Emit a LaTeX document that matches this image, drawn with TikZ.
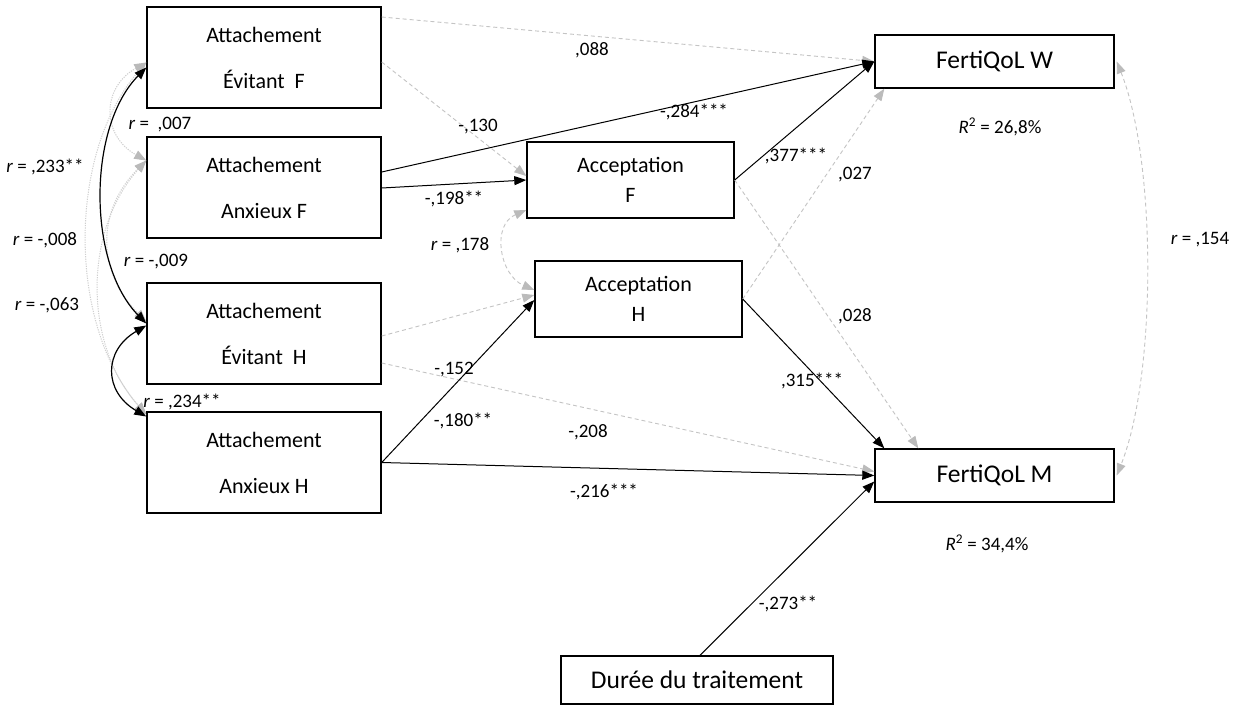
\documentclass[tikz,border=0pt]{standalone}
\usepackage{fontspec}
\setmainfont{Carlito}
\usetikzlibrary{arrows.meta,calc}
\definecolor{dgray}{HTML}{C4C4C4}
\definecolor{hgray}{HTML}{BBBBBB}
\definecolor{dotgray}{HTML}{CFCFCF}
\tikzset{
  box/.style={draw=black,line width=1.4pt,rectangle,inner sep=0pt,align=center,
    font=\fontsize{22}{46}\selectfont,minimum width=234pt,minimum height=101pt},
  accbox/.style={draw=black,line width=1.4pt,rectangle,inner sep=0pt,align=center,
    font=\fontsize{22}{30}\selectfont,minimum width=207pt,minimum height=76pt},
  outbox/.style={draw=black,line width=1.4pt,rectangle,inner sep=0pt,align=center,
    font=\fontsize{25.5}{30}\selectfont,minimum width=239pt,minimum height=53pt},
  lab/.style={font=\fontsize{19}{22}\selectfont,inner sep=0pt},
  solidarr/.style={draw=black,line width=1pt,-{Triangle[length=12pt,width=9pt]}},
  soliddbl/.style={draw=black,line width=1.2pt,{Triangle[length=12pt,width=9pt]}-{Triangle[length=12pt,width=9pt]}},
  dasharr/.style={draw=dgray,line width=0.9pt,dash pattern=on 4pt off 3pt,
    -{Triangle[length=12pt,width=9pt,color=hgray,fill=hgray]}},
  dashdbl/.style={draw=dgray,line width=0.9pt,dash pattern=on 4pt off 3pt,
    {Triangle[length=12pt,width=9pt,color=hgray,fill=hgray]}-{Triangle[length=12pt,width=9pt,color=hgray,fill=hgray]}},
  dotdbl/.style={draw=dotgray,line width=1pt,dash pattern=on 1.2pt off 1.2pt,
    {Triangle[length=12pt,width=9pt,color=dotgray!90!black,fill=dotgray!90!black]}-{Triangle[length=12pt,width=9pt,color=dotgray!90!black,fill=dotgray!90!black]}},
}
\begin{document}
\begin{tikzpicture}[x=1pt,y=-1pt]
\useasboundingbox (0,0) rectangle (1234,710);
\fill[white] (0,0) rectangle (1234,710);

% boxes
\node[box] (aef) at (264,57.5) {Attachement\\Évitant\ \ F};
\node[box] (aaf) at (264,187.5) {Attachement\\Anxieux F};
\node[box] (aeh) at (264,333.5) {Attachement\\Évitant\ \ H};
\node[box] (aah) at (264,462.5) {Attachement\\Anxieux H};
\node[accbox] (accf) at (630.5,180) {Acceptation\\F};
\node[accbox] (acch) at (638.5,299) {Acceptation\\H};
\node[outbox] (fw) at (994.5,61.5) {FertiQoL W};
\node[outbox] (fm) at (994.5,475.5) {FertiQoL M};
\node[outbox,minimum width=272pt,minimum height=48pt] (dur) at (697,680) {Durée du traitement};

% paths
\draw[dasharr] ([yshift=40.5pt]aef.east) -- (fw.west);
\draw[dasharr] ([yshift=-4.5pt]aef.east) -- ([yshift=4pt]accf.west);
\draw[solidarr] ([yshift=15.5pt]aaf.east) -- (fw.west);
\draw[solidarr] ([yshift=-0.5pt]aaf.east) -- (accf.west);
\draw[solidarr] (accf.east) -- (fw.west);
\draw[dasharr] (acch.east) -- ([xshift=10pt]fw.south west);
\draw[dasharr] (accf.east) -- ([xshift=44pt]fm.north west);
\draw[solidarr] (acch.east) -- ([xshift=10pt]fm.north west);
\draw[dasharr] ([yshift=-2.5pt]aeh.east) -- ([yshift=4pt]acch.west);
\draw[dasharr] ([yshift=-29.5pt]aeh.east) -- ([yshift=4pt]fm.west);
\draw[solidarr] (aah.east) -- ([yshift=-1pt]acch.west);
\draw[solidarr] (aah.east) -- (fm.west);
\draw[solidarr] ([xshift=3pt]dur.north) -- ([yshift=-6pt]fm.west);

% correlations
\coordinate (p178) at ([yshift=-30pt]accf.west);
\coordinate (q178) at ([yshift=9pt]acch.west);
\draw[dashdbl] (p178) .. controls ($(p178)+(-35,15)$) and ($(q178)+(-35,-15)$) .. (q178);
\coordinate (p154) at ([xshift=2pt]fw.east);
\coordinate (q154) at ([xshift=2pt]fm.east);
\draw[dashdbl] (p154) .. controls ($(p154)+(40,100)$) and ($(q154)+(40,-100)$) .. (q154);

\coordinate (aefg) at ([yshift=-5pt]aef.west);
\coordinate (aafg) at ([yshift=27pt]aaf.west);
\coordinate (aehg) at ([yshift=12pt]aeh.west);
\coordinate (aahg) at ([yshift=48pt]aah.west);
\draw[dotdbl] (aefg) .. controls ($(aefg)+(-79,90)$) and ($(aahg)+(-79,-90)$) .. (aahg);
\draw[dotdbl] (aafg) .. controls ($(aafg)+(-63,70)$) and ($(aahg)+(-63,-70)$) .. (aahg);
\draw[dotdbl] (aafg) .. controls ($(aafg)+(-50,50)$) and ($(aehg)+(-50,-50)$) .. (aehg);
\draw[dotdbl] (aefg) .. controls ($(aefg)+(-45,25)$) and ($(aafg)+(-45,-25)$) .. (aafg);

\coordinate (aefb) at ([yshift=-10pt]aef.west);
\coordinate (aehb) at ([yshift=10pt]aeh.west);
\coordinate (aehc) at ([yshift=8pt]aeh.west);
\coordinate (aahb) at ([yshift=46pt]aah.west);
\draw[soliddbl] (aefb) .. controls ($(aefb)+(-59,60)$) and ($(aehb)+(-59,-60)$) .. (aehb);
\draw[soliddbl] (aehc) .. controls ($(aehc)+(-43,25)$) and ($(aahb)+(-43,-25)$) .. (aahb);

% labels
\node[lab] (l088) at (592,50) {,088};
\node[lab] (l130) at (478,127) {-,130};
\node[lab] (l284) at (694,112) {-,284***};
\node[lab] (l198) at (454,199) {-,198**};
\node[lab] (l377) at (796,156) {,377***};
\node[lab] (l027) at (855,175) {,027};
\node[lab] (l028) at (855,316) {,028};
\node[lab] (l315) at (812,381) {,315***};
\node[lab] (l152) at (454,370) {-,152};
\node[lab] (l208) at (588,432) {-,208};
\node[lab] (l180) at (463,421) {-,180**};
\node[lab] (l216) at (604,492) {-,216***};
\node[lab] (l273) at (788,604) {-,273**};
\node[lab] (l178) at (460,245) {\textit{r} = ,178};
\node[lab] (l154) at (1200,240) {\textit{r} = ,154};
\node[lab] (r2w) at (1000,127) {\textit{R}\textsuperscript{2} = 26,8\%};
\node[lab] (r2m) at (987,544) {\textit{R}\textsuperscript{2} = 34,4\%};
\node[lab] (l233) at (45,167) {\textit{r} = ,233**};
\node[lab] (l008) at (45,240) {\textit{r} = -,008};
\node[lab] (l063) at (47,305) {\textit{r} = -,063};
\node[lab] (l007) at (160,125) {\textit{r} = \ ,007};
\node[lab] (l009) at (156,262) {\textit{r} = -,009};
\node[lab] (l234) at (182,402) {\textit{r} = ,234**};
\end{tikzpicture}
\end{document}
